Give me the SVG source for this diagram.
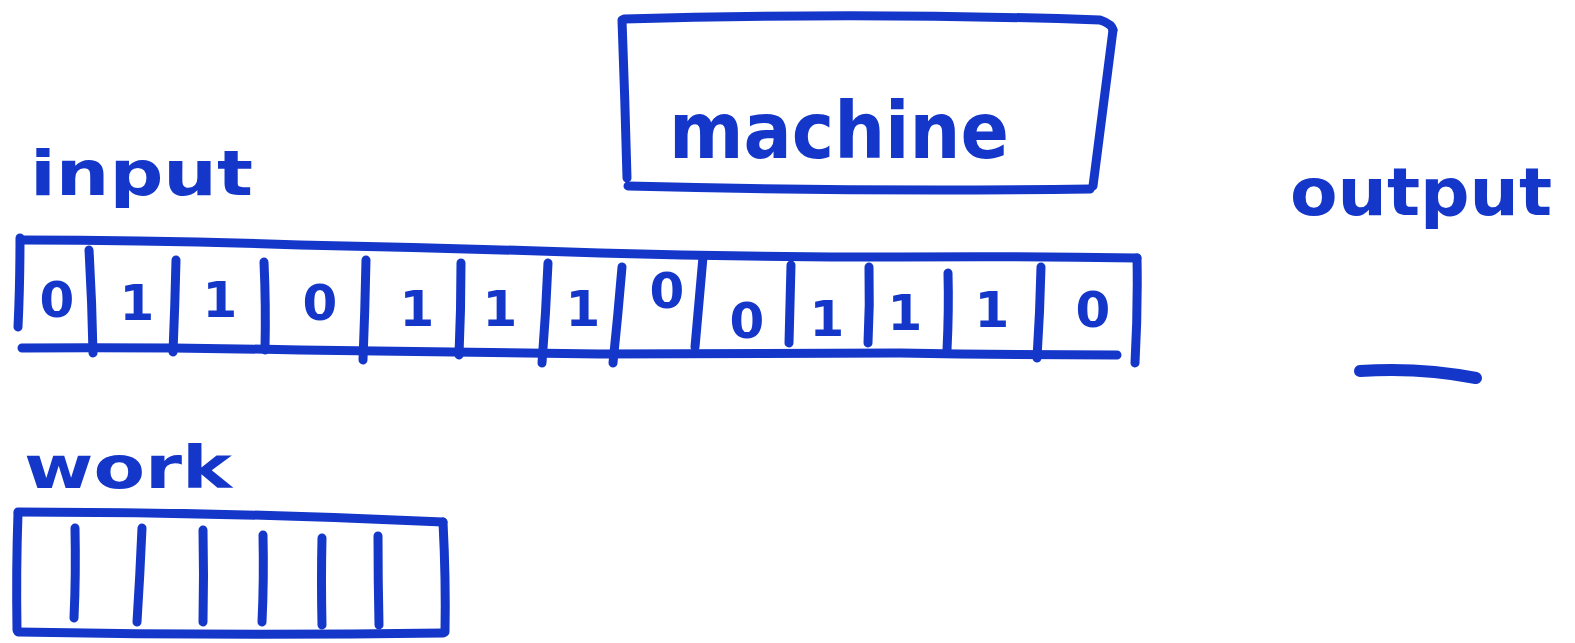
<svg xmlns="http://www.w3.org/2000/svg" width="1575" height="643" viewBox="0 0 1575 643">
<style>
.ink{stroke:#1537c9;stroke-width:9;fill:none;stroke-linecap:round;stroke-linejoin:round}
.hand{font-family:"DejaVu Sans",sans-serif;font-weight:bold;fill:#1537c9}
.dig{font-family:"DejaVu Sans",sans-serif;font-weight:bold;fill:#1537c9;font-size:50px;text-anchor:middle}
</style>
<rect width="1575" height="643" fill="#ffffff"/>
<g id="machine">
<path class="ink" d="M622,20 Q625,100 627,178"/>
<path class="ink" d="M624,19 Q870,12 1100,20 Q1112,24 1113,30"/>
<path class="ink" d="M1113,30 Q1103,110 1093,186"/>
<path class="ink" d="M628,186 Q860,192 1090,189"/>
<text class="hand" x="669" y="158" font-size="78" textLength="340" lengthAdjust="spacingAndGlyphs">machine</text>
</g>
<g id="input-label">
<text class="hand" x="30" y="195" font-size="62" textLength="223" lengthAdjust="spacingAndGlyphs">input</text>
</g>
<g id="input-tape">
<path class="ink" d="M20,238 Q20,285 18,327"/>
<path class="ink" d="M22,240 Q160,240 300,245 Q450,248 600,253 Q750,257 900,257 Q1020,256 1137,258"/>
<path class="ink" d="M1137,258 Q1138,310 1135,363"/>
<path class="ink" d="M22,348 Q160,347 300,350 Q450,352 600,354 Q750,353 900,353 Q1010,355 1117,355"/>
<path class="ink" d="M89,250 Q92,300 93,353"/>
<path class="ink" d="M176,260 Q175,305 173,352"/>
<path class="ink" d="M264,262 Q266,305 265,350"/>
<path class="ink" d="M366,260 Q365,310 363,360"/>
<path class="ink" d="M461,263 Q461,310 459,355"/>
<path class="ink" d="M548,263 Q546,312 542,363"/>
<path class="ink" d="M622,267 Q618,315 613,363"/>
<path class="ink" d="M703,257 Q699,300 695,347"/>
<path class="ink" d="M791,265 Q790,305 789,343"/>
<path class="ink" d="M869,267 Q870,305 868,343"/>
<path class="ink" d="M948,273 Q949,310 947,350"/>
<path class="ink" d="M1041,267 Q1040,312 1037,358"/>
<text class="dig" x="57" y="317">0</text>
<text class="dig" x="137" y="320">1</text>
<text class="dig" x="220" y="317">1</text>
<text class="dig" x="320" y="320">0</text>
<text class="dig" x="417" y="326">1</text>
<text class="dig" x="500" y="326">1</text>
<text class="dig" x="583" y="326">1</text>
<text class="dig" x="667" y="308" font-size="46">0</text>
<text class="dig" x="747" y="338">0</text>
<text class="dig" x="827" y="336">1</text>
<text class="dig" x="905" y="330">1</text>
<text class="dig" x="992" y="327">1</text>
<text class="dig" x="1093" y="327" font-size="54">0</text>
</g>
<g id="output-label">
<text class="hand" x="1290" y="215" font-size="66" textLength="262" lengthAdjust="spacingAndGlyphs">output</text>
<path class="ink" d="M1360,371 Q1420,367 1476,378" style="stroke-width:12"/>
</g>
<g id="work-label">
<text class="hand" x="24" y="488" font-size="58" textLength="208" lengthAdjust="spacingAndGlyphs">work</text>
</g>
<g id="work-tape">
<path class="ink" d="M18,513 Q16,570 17,630"/>
<path class="ink" d="M18,512 Q230,512 443,522"/>
<path class="ink" d="M443,522 Q446,580 445,632"/>
<path class="ink" d="M18,632 Q230,636 443,633"/>
<path class="ink" d="M75,528 Q76,575 74,618"/>
<path class="ink" d="M142,528 Q140,575 137,622"/>
<path class="ink" d="M203,530 Q204,575 203,622"/>
<path class="ink" d="M263,535 Q264,580 262,622"/>
<path class="ink" d="M322,538 Q321,580 322,625"/>
<path class="ink" d="M378,536 Q378,580 379,625"/>
</g>
</svg>
